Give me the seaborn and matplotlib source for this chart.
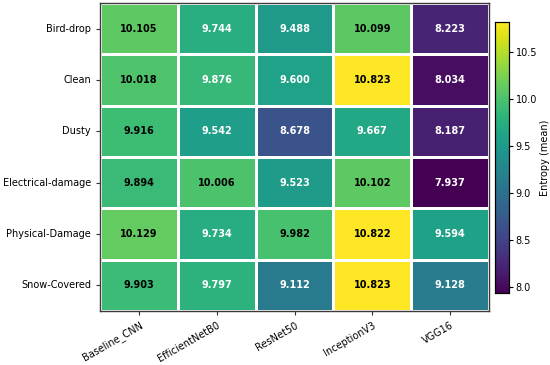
import numpy as np
import pandas as pd
import matplotlib
matplotlib.use("Agg")
import matplotlib.pyplot as plt
import seaborn as sns

classes = ["Bird-drop", "Clean", "Dusty", "Electrical-damage", "Physical-Damage", "Snow-Covered"]
models = ["Baseline_CNN", "EfficientNetB0", "ResNet50", "InceptionV3", "VGG16"]
baseline_cnn = [10.105, 10.018, 9.916, 9.894, 10.129, 9.903]
efficientnetb0 = [9.744, 9.876, 9.542, 10.006, 9.734, 9.797]
resnet50 = [9.488, 9.600, 8.678, 9.523, 9.982, 9.112]
inceptionv3 = [10.099, 10.823, 9.667, 10.102, 10.822, 10.823]
vgg16 = [8.223, 8.034, 8.187, 7.937, 9.594, 9.128]

df = pd.DataFrame({
    "Baseline_CNN": baseline_cnn,
    "EfficientNetB0": efficientnetb0,
    "ResNet50": resnet50,
    "InceptionV3": inceptionv3,
    "VGG16": vgg16,
}, index=classes)[models]

fig = plt.figure(figsize=(5.5, 3.65), dpi=100)
ax = fig.add_axes([0.182, 0.148, 0.707, 0.844])
cax = fig.add_axes([0.900, 0.197, 0.025, 0.743])
sns.heatmap(df, ax=ax, cbar_ax=cax, cmap="viridis", annot=True, fmt=".3f",
            linewidths=0.8, linecolor="white",
            annot_kws={"fontsize": 7, "fontweight": "bold"},
            cbar_kws={"label": "Entropy (mean)"})

# text colour: dark on bright cells, light elsewhere
vals = df.values.flatten()
threshold = 9.88
for t, v in zip(ax.texts, vals):
    t.set_color("black" if v > threshold else "white")

for s in ax.spines.values():
    s.set_visible(True)
    s.set_color("#3a3a3a")
    s.set_linewidth(1.0)
ax.set_xlabel("")
ax.set_ylabel("")
ax.set_xticklabels(ax.get_xticklabels(), rotation=30, ha="right", rotation_mode="anchor", fontsize=7)
ax.set_yticklabels(ax.get_yticklabels(), rotation=0, fontsize=7)
ax.tick_params(length=3, width=0.8, color="#333333")
cax.tick_params(labelsize=7, length=3, width=0.8, pad=2)
cax.set_ylabel("Entropy (mean)", fontsize=7, labelpad=2)
cax.set_yticks([8.0, 8.5, 9.0, 9.5, 10.0, 10.5])
cax.set_yticklabels(["8.0", "8.5", "9.0", "9.5", "10.0", "10.5"])
for s in cax.spines.values():
    s.set_visible(True)
    s.set_linewidth(0.8)
fig.savefig("out.png", dpi=100)
